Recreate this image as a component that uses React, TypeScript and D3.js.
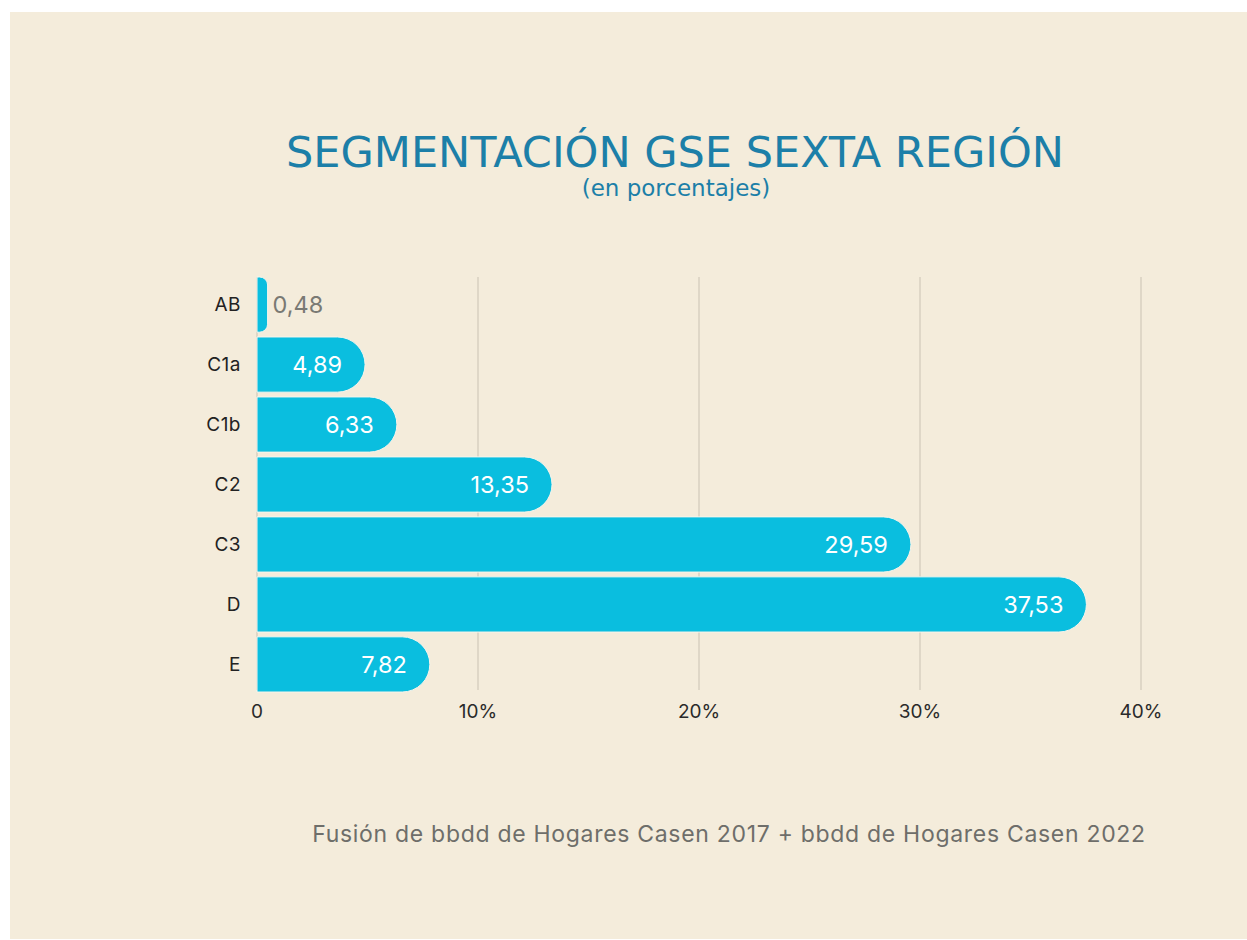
import React from "react";
import * as d3 from "d3";

const categories = ["AB", "C1a", "C1b", "C2", "C3", "D", "E"];
const values = [0.48, 4.89, 6.33, 13.35, 29.59, 37.53, 7.82];
const ticks = [0, 10, 20, 30, 40];
const tickLabels = ["0", "10%", "20%", "30%", "40%"];
const title = "SEGMENTACIÓN GSE SEXTA REGIÓN";
const subtitle = "(en porcentajes)";
const source = "Fusión de bbdd de Hogares Casen 2017 + bbdd de Hogares Casen 2022";

const W = 1247;
const H = 940;

export default function App() {
  const x = d3.scaleLinear().domain([0, 40]).range([257, 1141]);
  const y = d3.scaleBand<string>().domain(categories).range([277, 692]).paddingInner(0.08).paddingOuter(0);
  const bh = y.bandwidth();
  const fmt = (v: number) => v.toFixed(2).replace(".", ",");

  const barPath = (v: number, cat: string) => {
    const x0 = x(0);
    const w = x(v) - x0;
    const y0 = y(cat) as number;
    const r = Math.min(bh / 2, w * 0.75);
    return `M${x0},${y0} H${x0 + w - r} A${r},${r} 0 0 1 ${x0 + w},${y0 + r} V${y0 + bh - r} A${r},${r} 0 0 1 ${x0 + w - r},${y0 + bh} H${x0} Z`;
  };

  return (
    <div style={{ position: "absolute", left: 0, top: 0 }}>
      <svg width={W} height={H} style={{ display: "block" }}>
        <rect x={0} y={0} width={W} height={H} fill="#ffffff" />
        <rect x={10} y={12} width={W - 10} height={927} fill="#F4ECDB" />
        <text x={675} y={167} textAnchor="middle" fontFamily="DejaVu Sans" fontSize={43} fill="#1C7FA8">
          {title}
        </text>
        <text x={676} y={196} textAnchor="middle" fontFamily="DejaVu Sans" fontSize={23} fill="#1C7FA8">
          {subtitle}
        </text>
        {ticks.map((t) => (
          <line key={t} x1={x(t)} x2={x(t)} y1={277} y2={690} stroke="#D9D1C1" strokeWidth={1.5} />
        ))}
        {categories.map((c, i) => (
          <path key={c} d={barPath(values[i], c)} fill="#0ABEDF" stroke="#F7F5EC" strokeWidth={1} />
        ))}
        {categories.map((c, i) => {
          const cy = (y(c) as number) + bh / 2;
          const inside = x(values[i]) - x(0) > 60;
          return (
            <text
              key={c + "v"}
              x={inside ? x(values[i]) - 23 : x(values[i]) + 5}
              y={cy}
              dy="0.35em"
              textAnchor={inside ? "end" : "start"}
              fontFamily="Inter"
              fontSize={23.5}
              fill={inside ? "#ffffff" : "#7a7a74"}
            >
              {fmt(values[i])}
            </text>
          );
        })}
        {categories.map((c) => (
          <text
            key={c + "l"}
            x={241}
            y={(y(c) as number) + bh / 2}
            dy="0.35em"
            textAnchor="end"
            fontFamily="Inter"
            fontSize={19}
            letterSpacing={0.5}
            fill="#222222"
          >
            {c}
          </text>
        ))}
        {ticks.map((t, i) => (
          <text key={t + "t"} x={x(t)} y={711} dy="0.35em" textAnchor="middle" fontFamily="Inter" fontSize={19} fill="#2a2a2a">
            {tickLabels[i]}
          </text>
        ))}
        <text x={729} y={842} textAnchor="middle" fontFamily="Inter" fontSize={23} letterSpacing={0.7} fill="#6e6e6a">
          {source}
        </text>
      </svg>
    </div>
  );
}
